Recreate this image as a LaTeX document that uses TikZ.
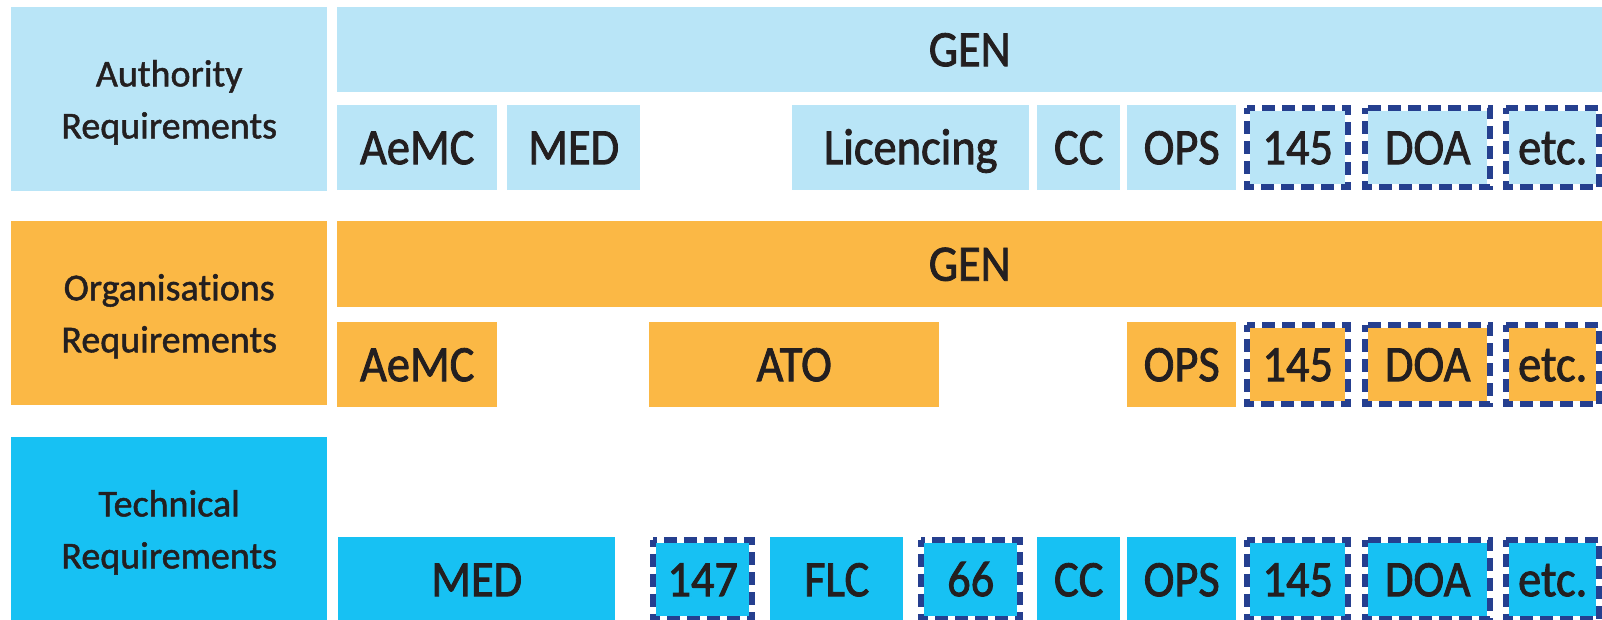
\documentclass[tikz,border=0pt]{standalone}
\usepackage{fontspec}
\setmainfont{Carlito}
\newfontfamily\labelfont[FakeBold=1.3,Ligatures=NoCommon]{Carlito}
\newfontfamily\boxfont[FakeStretch=0.91,FakeBold=1.6,Ligatures=NoCommon]{Carlito}
\definecolor{lblue}{HTML}{B9E5F7}
\definecolor{orng}{HTML}{FBB845}
\definecolor{cyanb}{HTML}{17C1F3}
\definecolor{dashblue}{HTML}{253F8F}
\definecolor{ink}{HTML}{231F20}
\tikzset{
  grouplabel/.style={anchor=north west, inner sep=0pt, minimum width=316pt,
    minimum height=184pt, align=center, text=ink, text depth=0pt,
    font=\labelfont\fontsize{38}{52}\selectfont},
  genbar/.style={anchor=north west, inner sep=0pt, minimum width=1265pt,
    minimum height=85pt, text=ink, text height=33pt, text depth=0pt,
    font=\boxfont\fontsize{51}{51}\selectfont},
  partbox/.style={anchor=north west, inner sep=0pt, minimum height=85pt,
    text=ink, text height=33pt, text depth=0pt,
    font=\boxfont\fontsize{51}{51}\selectfont},
  optbox/.style={partbox, minimum height=73pt},
  dashedge/.style={draw=dashblue, line width=6pt,
    dash pattern=on 13pt off 7pt, dash phase=6.5pt},
}
% optional part: #1 name, #2 colour, #3 left, #4 top, #5 outer width, #6 text
\newcommand\optpart[6]{%
  \node[optbox, fill=#2, minimum width=#5pt-12pt] (#1) at (#3+6,#4+6) {#6};
  \draw[dashedge] ([shift={(-3,-3)}]#1.north west) rectangle ([shift={(3,3)}]#1.south east);
}
\begin{document}
\begin{tikzpicture}[x=1pt,y=-1pt]
\useasboundingbox (0,0) rectangle (1602,620);
\clip (0,0) rectangle (1602,620);

% ---- authority requirements ----
\node[grouplabel, fill=lblue] (auth) at (11,7) {Authority\\Requirements};
\node[genbar, fill=lblue] (authgen) at (337,7) {GEN};
\node[partbox, fill=lblue, minimum width=160pt] (a1) at (337,105) {AeMC};
\node[partbox, fill=lblue, minimum width=133pt] (a2) at (507,105) {MED};
\node[partbox, fill=lblue, minimum width=237pt] (a3) at (792,105) {Licencing};
\node[partbox, fill=lblue, minimum width=83pt] (a4) at (1037,105) {CC};
\node[partbox, fill=lblue, minimum width=109pt] (a5) at (1127,105) {OPS};
\optpart{a6}{lblue}{1244}{105}{107}{145}
\optpart{a7}{lblue}{1362}{105}{131}{DOA}
\optpart{a8}{lblue}{1503}{105}{99}{etc.}

% ---- organisations requirements ----
\node[grouplabel, fill=orng] (org) at (11,221) {Organisations\\Requirements};
\node[genbar, fill=orng, minimum height=86pt] (orggen) at (337,221) {GEN};
\node[partbox, fill=orng, minimum width=160pt] (o1) at (337,322) {AeMC};
\node[partbox, fill=orng, minimum width=290pt] (o2) at (649,322) {ATO};
\node[partbox, fill=orng, minimum width=109pt] (o3) at (1127,322) {OPS};
\optpart{o4}{orng}{1244}{322}{107}{145}
\optpart{o5}{orng}{1362}{322}{131}{DOA}
\optpart{o6}{orng}{1503}{322}{99}{etc.}

% ---- technical requirements ----
\node[grouplabel, fill=cyanb] (tech) at (11,437) {Technical\\Requirements};
\node[partbox, fill=cyanb, minimum width=277pt] (t1) at (338,537) {MED};
\optpart{t2}{cyanb}{650}{537}{105}{147}
\node[partbox, fill=cyanb, minimum width=133pt] (t3) at (770,537) {FLC};
\optpart{t4}{cyanb}{918}{537}{105}{66}
\node[partbox, fill=cyanb, minimum width=83pt] (t5) at (1037,537) {CC};
\node[partbox, fill=cyanb, minimum width=109pt] (t6) at (1127,537) {OPS};
\optpart{t7}{cyanb}{1244}{537}{107}{145}
\optpart{t8}{cyanb}{1362}{537}{131}{DOA}
\optpart{t9}{cyanb}{1503}{537}{99}{etc.}
\end{tikzpicture}
\end{document}
